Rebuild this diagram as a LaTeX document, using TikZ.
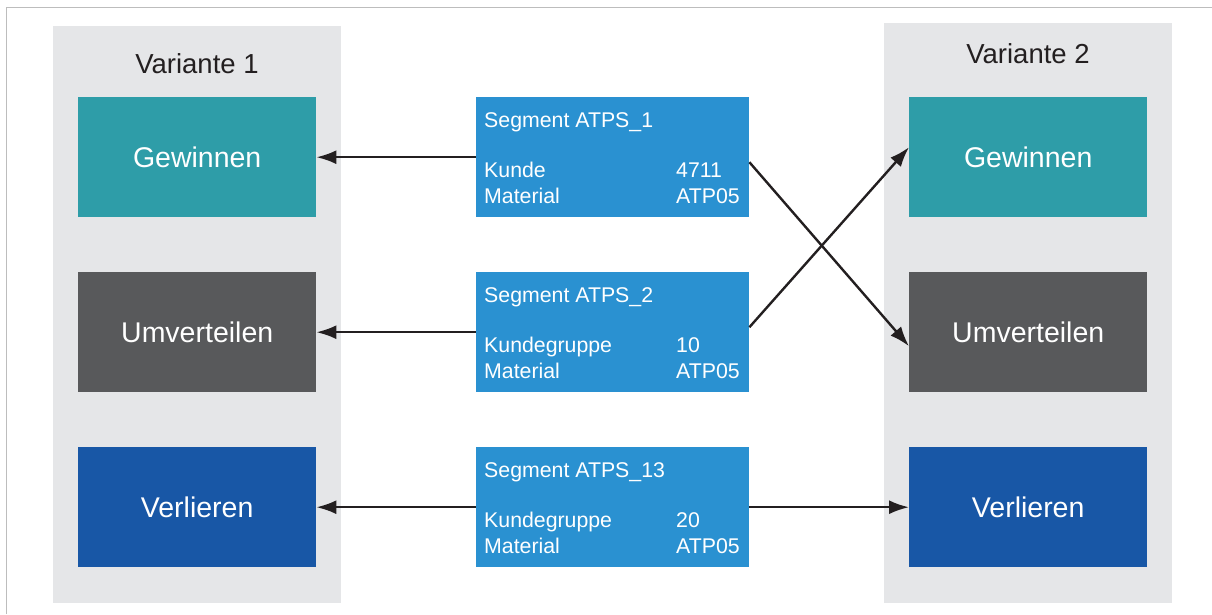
\documentclass[tikz,border=0pt]{standalone}
\usepackage{fontspec}
\setmainfont{Liberation Sans}
\usetikzlibrary{arrows.meta}
\definecolor{panelgray}{HTML}{E5E6E8}
\definecolor{teal1}{HTML}{2E9DA8}
\definecolor{dgray}{HTML}{58595B}
\definecolor{blue1}{HTML}{1857A6}
\definecolor{segblue}{HTML}{2A91D1}
\definecolor{txtdark}{HTML}{231F20}
\definecolor{framegray}{HTML}{BDBDBD}
\tikzset{
  panel/.style={fill=panelgray, draw=none, anchor=north west, inner sep=0pt},
  catbox/.style={draw=none, anchor=north west, inner sep=0pt, minimum width=238pt, minimum height=120pt,
    text=white, font=\fontsize{28.5}{30}\selectfont, text height=20pt, text depth=0pt},
  segbox/.style={fill=segblue, draw=none, anchor=north west, inner sep=0pt, minimum width=273pt, minimum height=120pt},
  segtxt/.style={text=white, anchor=base west, inner sep=0pt, font=\fontsize{21.3}{24}\selectfont},
  title/.style={text=txtdark, anchor=base, inner sep=0pt, font=\fontsize{27.5}{30}\selectfont},
  conn/.style={draw=txtdark, line width=2.4pt, -{Latex[length=20pt,width=14pt]}},
}
\begin{document}
\begin{tikzpicture}[x=1pt,y=-1pt]
\useasboundingbox (0,0) rectangle (1212,614);
% frame
\draw[framegray, line width=1.5pt] (6.5,614) -- (6.5,7.5) -- (1212,7.5);
% panels
\node[panel, minimum width=288pt, minimum height=577pt] (p1) at (53,26) {};
\node[panel, minimum width=288pt, minimum height=580pt] (p2) at (884,23) {};
\node[title] (t1) at (197,73) {Variante 1};
\node[title] (t2) at (1028,63) {Variante 2};
% left boxes
\node[catbox, fill=teal1] (l1) at (78,97) {Gewinnen};
\node[catbox, fill=dgray] (l2) at (78,272) {Umverteilen};
\node[catbox, fill=blue1] (l3) at (78,447) {Verlieren};
% right boxes
\node[catbox, fill=teal1] (r1) at (909,97) {Gewinnen};
\node[catbox, fill=dgray] (r2) at (909,272) {Umverteilen};
\node[catbox, fill=blue1] (r3) at (909,447) {Verlieren};
% segment boxes
\node[segbox] (s1) at (476,97) {};
\node[segbox] (s2) at (476,272) {};
\node[segbox] (s3) at (476,447) {};
% segment texts
\node[segtxt] (s1a) at ([xshift=8pt,yshift=-30pt]s1.north west) {Segment ATPS\_1};
\node[segtxt] (s1b) at ([xshift=8pt,yshift=-80pt]s1.north west) {Kunde};
\node[segtxt] (s1c) at ([xshift=8pt,yshift=-106pt]s1.north west) {Material};
\node[segtxt] (s1d) at ([xshift=200pt,yshift=-80pt]s1.north west) {4711};
\node[segtxt] (s1e) at ([xshift=200pt,yshift=-106pt]s1.north west) {ATP05};
\node[segtxt] (s2a) at ([xshift=8pt,yshift=-30pt]s2.north west) {Segment ATPS\_2};
\node[segtxt] (s2b) at ([xshift=8pt,yshift=-80pt]s2.north west) {Kundegruppe};
\node[segtxt] (s2c) at ([xshift=8pt,yshift=-106pt]s2.north west) {Material};
\node[segtxt] (s2d) at ([xshift=200pt,yshift=-80pt]s2.north west) {10};
\node[segtxt] (s2e) at ([xshift=200pt,yshift=-106pt]s2.north west) {ATP05};
\node[segtxt] (s3a) at ([xshift=8pt,yshift=-30pt]s3.north west) {Segment ATPS\_13};
\node[segtxt] (s3b) at ([xshift=8pt,yshift=-80pt]s3.north west) {Kundegruppe};
\node[segtxt] (s3c) at ([xshift=8pt,yshift=-106pt]s3.north west) {Material};
\node[segtxt] (s3d) at ([xshift=200pt,yshift=-80pt]s3.north west) {20};
\node[segtxt] (s3e) at ([xshift=200pt,yshift=-106pt]s3.north west) {ATP05};
% connectors
\draw[conn] (s1.west) -- (l1.east);
\draw[conn] (s2.west) -- (l2.east);
\draw[conn] (s3.west) -- (l3.east);
\draw[conn] ([yshift=-5pt]s1.east) -- ([yshift=-14pt]r2.west);
\draw[conn] ([yshift=5pt]s2.east) -- ([yshift=10pt]r1.west);
\draw[conn] (s3.east) -- (r3.west);
\end{tikzpicture}
\end{document}
